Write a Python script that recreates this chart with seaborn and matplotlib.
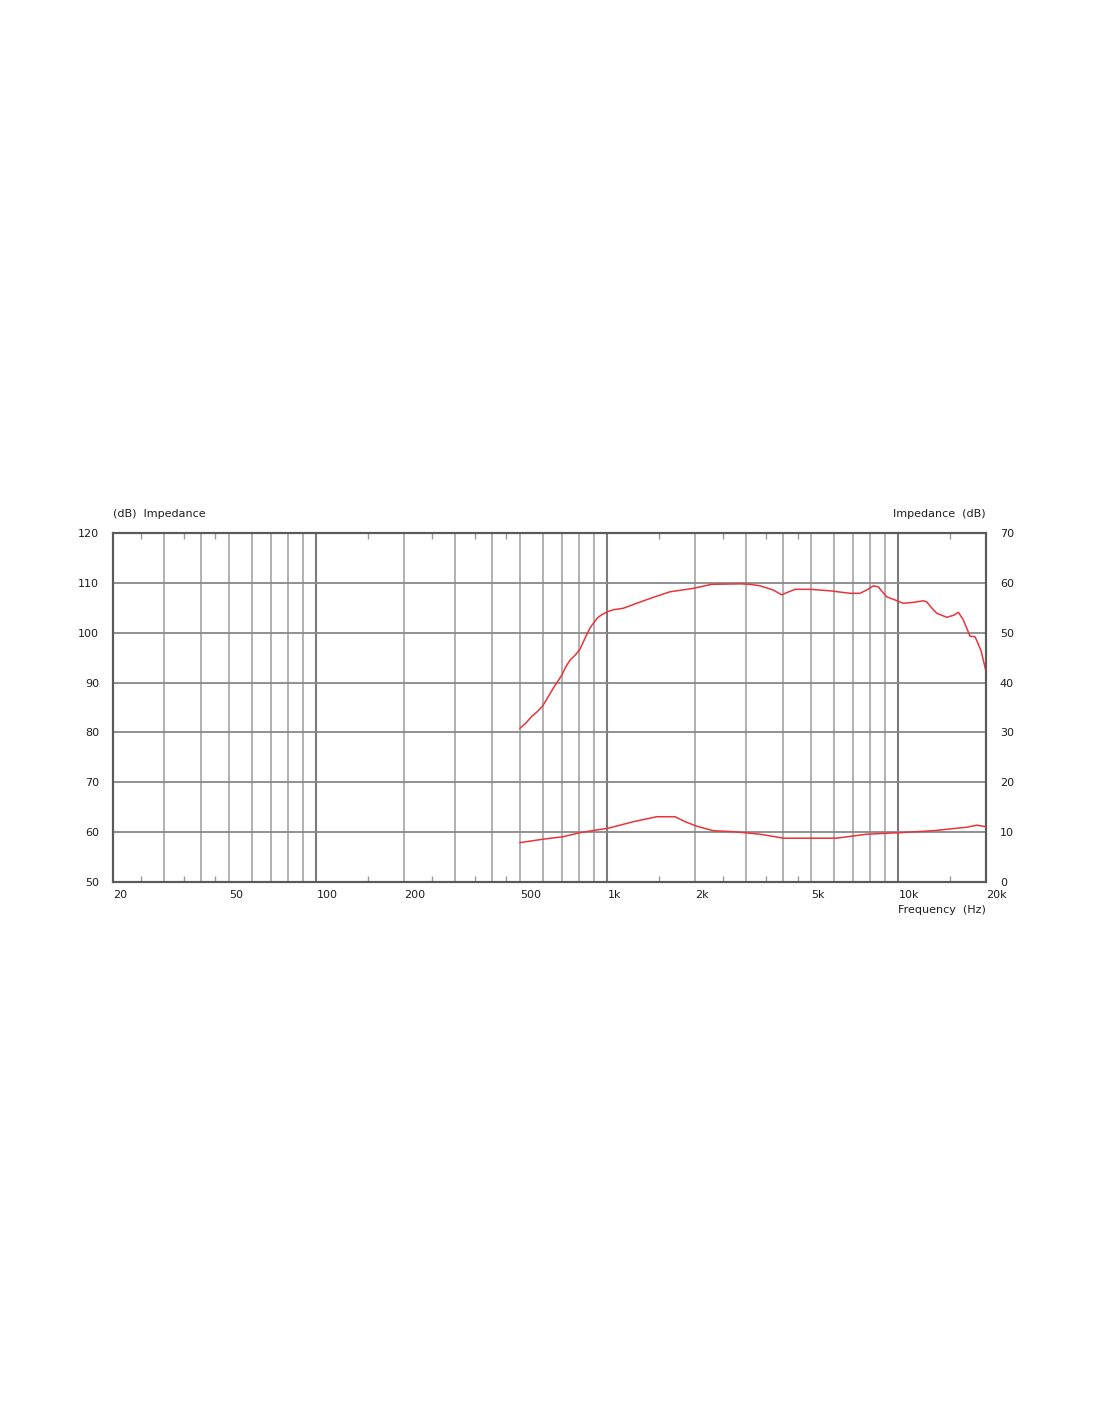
import numpy as np
import pandas as pd
import seaborn as sns
import matplotlib.pyplot as plt
from matplotlib.ticker import FixedLocator, NullFormatter

# SPL response (left axis, dB)
spl_freq = [500, 525, 549, 575, 599, 625, 652, 697, 720, 744, 775, 805, 830, 853, 875, 895,
            925, 956, 1000, 1048, 1134, 1261, 1438,
            1641, 1974, 2282, 2855, 3091, 3345, 3700, 3973, 4200, 4414, 4969, 5822, 6818, 7379,
            7800, 8198, 8530, 8800, 9117, 9700, 10396, 11300, 12174, 12500, 13000, 13540, 14655,
            15500, 16064, 16700, 17622, 18334, 19200, 20000]
spl_db = [80.8, 81.9, 83.2, 84.2, 85.3, 87.1, 88.9, 91.5, 93.2, 94.5, 95.5, 96.7, 98.4, 99.9,
          101.1, 101.9, 103.0, 103.6, 104.2, 104.6, 104.9, 105.9, 107.1,
          108.2, 108.9, 109.7, 109.8, 109.7, 109.4, 108.6, 107.6, 108.2, 108.7, 108.7, 108.4,
          107.9, 107.9, 108.6, 109.4, 109.2, 108.2, 107.2, 106.6, 105.9, 106.1, 106.4, 106.2,
          105.0, 103.9, 103.1, 103.5, 104.1, 102.6, 99.3, 99.2, 96.5, 92.2]

# impedance (right axis)
imp_freq = [500, 602, 705, 805, 907, 1007, 1228, 1477, 1708, 1850, 2028, 2312, 2708, 3345,
            4025, 4840, 6138, 7781, 10100, 13180, 17170, 18590, 20000]
imp_val = [7.9, 8.6, 9.1, 9.9, 10.4, 10.8, 12.1, 13.1, 13.1, 12.1, 11.2, 10.3, 10.1, 9.6,
           8.8, 8.8, 8.8, 9.6, 9.9, 10.3, 11.0, 11.4, 11.1]

xtick_vals = [20, 50, 100, 200, 500, 1000, 2000, 5000, 10000, 20000]
xtick_text = ["20", "50", "100", "200", "500", "1k", "2k", "5k", "10k", "20k"]
grid_light = [30, 40, 50, 60, 70, 80, 90, 200, 300, 400, 500, 600, 700, 800, 900,
              2000, 3000, 4000, 5000, 6000, 7000, 8000, 9000]
grid_dark = [100, 1000, 10000]
minor_marks = [25, 35, 45, 150, 250, 350, 450, 1500, 2500, 3500, 4500, 15000]

spl = pd.DataFrame({"freq": spl_freq, "db": spl_db})
imp = pd.DataFrame({"freq": imp_freq, "ohm": imp_val})

sns.set_style("white")
plt.rcParams['font.family'] = ['DejaVu Sans']

red = "#e8343a"
txt = "#1e1e1e"
fig = plt.figure(figsize=(11, 14.22), dpi=100)
ax = fig.add_axes([0.1027, 0.3797, 0.7937, 0.2455])

for g in grid_light:
    ax.axvline(g, color="#ababab", lw=1.3, zorder=1)
for g in grid_dark:
    ax.axvline(g, color="#7a7a7a", lw=1.5, zorder=1)
for yv in range(60, 120, 10):
    ax.axhline(yv, color="#888888", lw=1.3, zorder=1)

sns.lineplot(data=spl, x="freq", y="db", ax=ax, color=red, lw=1.1, zorder=3)

ax.set_xscale("log")
ax.set_xlim(20, 20000)
ax.set_ylim(50, 120)
ax.set_yticks(range(50, 121, 10))
ax.xaxis.set_major_locator(FixedLocator(xtick_vals))
ax.xaxis.set_minor_locator(FixedLocator(minor_marks))
ax.xaxis.set_minor_formatter(NullFormatter())
ax.set_xticklabels(xtick_text)
for lab in ax.get_xticklabels():
    lab.set_horizontalalignment("left")
ax.tick_params(axis="x", which="major", length=0, pad=6, labelsize=8, colors=txt)
ax.tick_params(axis="x", which="minor", length=4, width=1, direction="in",
               top=True, bottom=True, color="#999999")
ax.tick_params(axis="y", length=0, pad=10, labelsize=8, colors=txt)
ax.set_xlabel("")
ax.set_ylabel("")

ax2 = ax.twinx()
sns.lineplot(data=imp, x="freq", y="ohm", ax=ax2, color=red, lw=1.1, zorder=3)
ax2.set_ylim(0, 70)
ax2.set_yticks(range(0, 71, 10))
ax2.tick_params(axis="y", length=0, pad=10, labelsize=8, colors=txt)
ax2.set_ylabel("")
ax2.set_xlim(20, 20000)

for a in (ax, ax2):
    for s in a.spines.values():
        s.set_color("#5a5a5a")
        s.set_linewidth(1.5)

ax.text(0.0, 1.054, "(dB)  Impedance", transform=ax.transAxes, ha="left", va="center",
        fontsize=8, color=txt)
ax.text(1.0, 1.054, "Impedance  (dB)", transform=ax.transAxes, ha="right", va="center",
        fontsize=8, color=txt)
ax.text(1.0, -0.08, "Frequency  (Hz)", transform=ax.transAxes, ha="right", va="center",
        fontsize=8, color=txt)

fig.savefig("out.png", dpi=100, facecolor="white")
